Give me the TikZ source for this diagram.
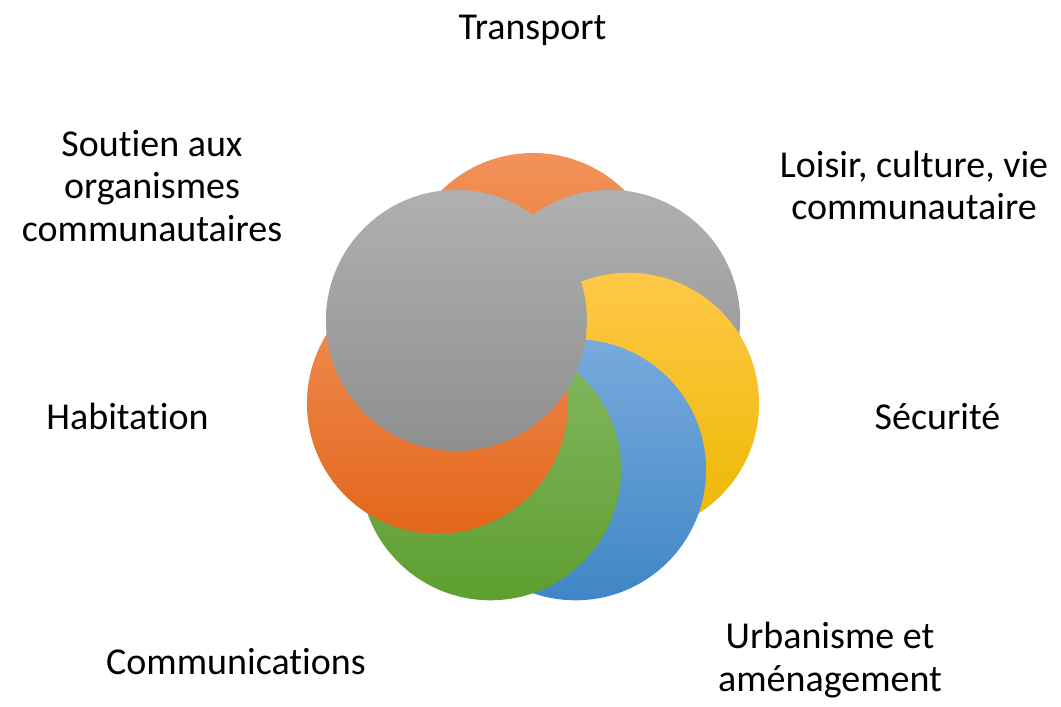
\documentclass[tikz,border=0pt]{standalone}
\usepackage{fontspec}
\setmainfont{Carlito}[Ligatures={NoCommon,NoContextual},RawFeature={-liga;-clig;-calt;-dlig}]
\usetikzlibrary{calc}
\newcommand{\nlg}{\kern0pt{}}
\definecolor{orT}{HTML}{F29259}
\definecolor{orM}{HTML}{ED7D31}
\definecolor{orB}{HTML}{E2661A}
\definecolor{grT}{HTML}{B0B0B0}
\definecolor{grM}{HTML}{A5A5A5}
\definecolor{grB}{HTML}{8F8F8F}
\definecolor{goT}{HTML}{FFC848}
\definecolor{goM}{HTML}{FFC000}
\definecolor{goB}{HTML}{EDB800}
\definecolor{blT}{HTML}{78AADD}
\definecolor{blM}{HTML}{5B9BD5}
\definecolor{blB}{HTML}{3F86C6}
\definecolor{gnT}{HTML}{84B862}
\definecolor{gnM}{HTML}{70AD47}
\definecolor{gnB}{HTML}{5E9F30}
\begin{document}
\begin{tikzpicture}[x=1pt,y=1pt,
  petal/.style={circle,inner sep=0pt,minimum size=261pt,draw=none},
  orpetal/.style={petal,top color=orT,middle color=orM,bottom color=orB},
  grpetal/.style={petal,top color=grT,middle color=grM,bottom color=grB},
  gopetal/.style={petal,top color=goT,middle color=goM,bottom color=goB},
  blpetal/.style={petal,top color=blT,middle color=blM,bottom color=blB},
  gnpetal/.style={petal,top color=gnT,middle color=gnM,bottom color=gnB},
  lbl/.style={font=\fontsize{38}{42.8}\selectfont,align=center,inner sep=0pt,anchor=base,text=black}]
\useasboundingbox (0,0) rectangle (1061,707);
\coordinate (ctr) at (533,325.5);
\node[orpetal] (transport) at ($(ctr)+(90:98)$) {};
\node[grpetal] (loisir) at ($(ctr)+(38.57:98)$) {};
\node[gopetal] (securite) at ($(ctr)+(-12.86:98)$) {};
\node[blpetal] (urbanisme) at ($(ctr)+(-64.29:98)$) {};
\node[gnpetal] (communications) at ($(ctr)+(-115.71:98)$) {};
\node[orpetal] (habitation) at ($(ctr)+(-167.14:98)$) {};
\node[grpetal] (soutien) at ($(ctr)+(141.43:98)$) {};
\node[lbl] (tTransport) at (532.5,667) {Transport};
\node[lbl] (tSoutien) at (152,465.3) {Sout\nlg ien aux\\organismes\\communautaires};
\node[lbl] (tLoisir) at (914,487) {Loisir, culture, vie\\communautaire};
\node[lbl] (tHabitation) at (127.5,277) {Habitat\nlg ion};
\node[lbl] (tSecurite) at (937.5,277) {Sécurité};
\node[lbl] (tCommunications) at (236,32) {Communicat\nlg ions};
\node[lbl] (tUrbanisme) at (830,15.3) {Urbanisme et\\aménagement};
\end{tikzpicture}
\end{document}
